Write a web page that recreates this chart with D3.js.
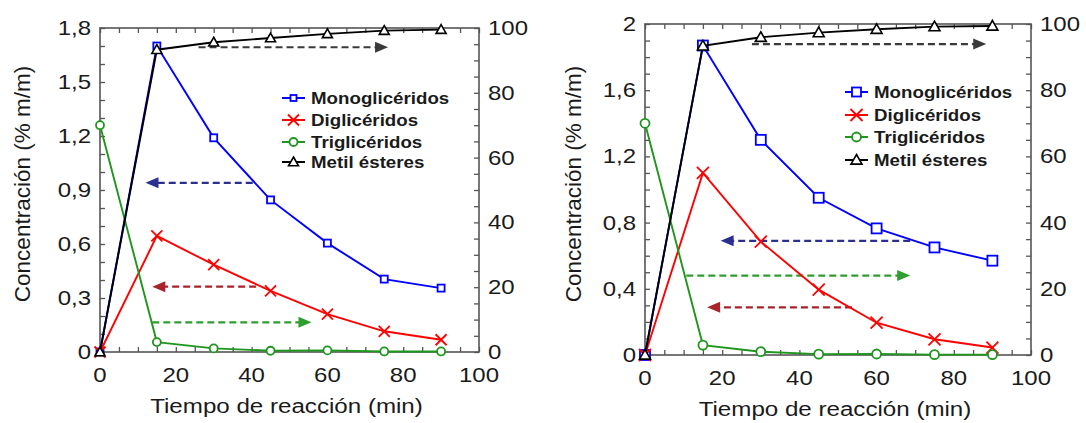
<!DOCTYPE html>
<html lang="es">
<head>
<meta charset="utf-8">
<script src="https://d3js.org/d3.v7.min.js"></script>
<style>
  body { margin: 0; background: #fff; }
  text { font-family: "Liberation Sans", Arial, sans-serif; fill: #1a1a1a; }
</style>
</head>
<body>
<script>
// tiempo de reacción (min)
const tiempo = [0, 15, 30, 45, 60, 75, 90];

// panel izquierdo (% m/m, metil ésteres en eje derecho 0-100)
const monoA  = [0, 1.70, 1.19, 0.845, 0.605, 0.405, 0.355];
const diA    = [0, 0.645, 0.485, 0.34, 0.21, 0.115, 0.068];
const triA   = [1.26, 0.055, 0.02, 0.007, 0.009, 0.003, 0.003];
const metilA = [0, 93.3, 95.6, 96.9, 98.2, 99.2, 99.5];

// panel derecho
const monoB  = [0, 1.87, 1.30, 0.95, 0.765, 0.65, 0.57];
const diB    = [0, 1.10, 0.685, 0.395, 0.195, 0.095, 0.045];
const triB   = [1.40, 0.06, 0.02, 0.005, 0.006, 0.002, 0.002];
const metilB = [0, 93.4, 96.0, 97.4, 98.4, 99.2, 99.4];

// tick labels
const xTicks = [0, 20, 40, 60, 80, 100];
const yTicksA = [0, 0.3, 0.6, 0.9, 1.2, 1.5, 1.8];
const yTicksB = [0, 0.4, 0.8, 1.2, 1.6, 2];
const rightTicks = [0, 20, 40, 60, 80, 100];

// arrows: [from x, to x, y (left axis units), series]
const arrowsA = [[26, 76, 1.693, "metil"], [40.3, 12, 0.94, "mono"], [41.2, 13.8, 0.363, "di"], [13.8, 55.8, 0.165, "tri"]];
const arrowsB = [[27.7, 88.4, 1.879, "metil"], [68.7, 19.6, 0.69, "mono"], [10.7, 68.7, 0.48, "tri"], [53.6, 16.1, 0.288, "di"]];

const names = {mono: "Monoglicéridos", di: "Diglicéridos", tri: "Triglicéridos", metil: "Metil ésteres"};
const colours = {mono: "#0000ff", di: "#ff0000", tri: "#1e961e", metil: "#000"};
const arrowColours = {mono: "#2b2f8f", di: "#a8232a", tri: "#2e9e2e", metil: "#3a3a3a"};

const W = 1086, H = 423;
const svg = d3.select("body").append("svg").attr("width", W).attr("height", H);

const defs = svg.append("defs");
defs.append("filter").attr("id", "blur").attr("x", "-20%").attr("y", "-200%").attr("width", "140%").attr("height", "500%")
    .append("feGaussianBlur").attr("stdDeviation", 2);

const fmt = d3.formatLocale({decimal: ",", thousands: ".", grouping: [3], currency: ["", ""]}).format(".2~f");

// text with the horizontal stretch seen in the picture
function label(g, x, y, s, size, sx, anchor, weight) {
  return g.append("text")
    .attr("transform", `translate(${x},${y}) scale(${sx},1)`)
    .attr("text-anchor", anchor)
    .attr("font-size", size)
    .attr("font-weight", weight || "normal")
    .text(s);
}

function marker(g, type, cx, cy, sz) {
  const c = colours[type];
  if (type == "mono") {
    g.append("rect").attr("x", cx - sz / 2).attr("y", cy - sz / 2).attr("width", sz).attr("height", sz)
     .attr("fill", "#fff").attr("stroke", c).attr("stroke-width", 1.8);
  } else if (type == "di") {
    const r = sz / 2 + 1;
    g.append("path").attr("d", `M${cx - r},${cy - r}L${cx + r},${cy + r}M${cx - r},${cy + r}L${cx + r},${cy - r}`)
     .attr("stroke", c).attr("stroke-width", 1.8);
  } else if (type == "tri") {
    g.append("circle").attr("cx", cx).attr("cy", cy).attr("r", sz / 2)
     .attr("fill", "#fff").attr("stroke", c).attr("stroke-width", 1.8);
  } else {
    const r = sz / 2 + 0.5;
    g.append("path").attr("d", `M${cx},${cy - r}L${cx + r},${cy + r * 0.75}L${cx - r},${cy + r * 0.75}Z`)
     .attr("fill", "#fff").attr("stroke", c).attr("stroke-width", 1.6);
  }
}

function drawPanel(p) {
  const g = svg.append("g");
  const x = d3.scaleLinear().domain([0, 100]).range([p.x0, p.x1]);
  const y = d3.scaleLinear().domain([0, p.yMax]).range([p.y1, p.y0]);
  const yr = d3.scaleLinear().domain([0, 100]).range([p.y1, p.y0]);

  // inward ticks on all sides
  const tk = (ax) => ax.tickSize(-5).tickFormat("");
  const ax = [
    g.append("g").attr("transform", `translate(0,${p.y1})`).call(tk(d3.axisBottom(x).tickValues(d3.range(0, 101, 5)))),
    g.append("g").attr("transform", `translate(0,${p.y0})`).call(tk(d3.axisTop(x).tickValues(d3.range(0, 101, 5)))),
    g.append("g").attr("transform", `translate(${p.x0},0)`).call(tk(d3.axisLeft(y).tickValues(d3.range(0, p.yMax + 0.01, 0.1)))),
    g.append("g").attr("transform", `translate(${p.x1},0)`).call(tk(d3.axisRight(yr).tickValues(d3.range(0, 101, 5))))
  ];
  ax.forEach(a => { a.select(".domain").remove(); a.selectAll("line").attr("stroke", "#555").attr("stroke-width", 1.3); });

  g.append("rect").attr("x", p.x0).attr("y", p.y0).attr("width", p.x1 - p.x0).attr("height", p.y1 - p.y0)
   .attr("fill", "none").attr("stroke", "#555").attr("stroke-width", 1.6);

  // tick labels
  xTicks.forEach(v => label(g, x(v), p.y1 + 30, v, 20, 1.2, "middle"));
  p.yTicks.forEach(v => label(g, p.x0 - 9, y(v) + 7, fmt(v), 20, 1.2, "end"));
  rightTicks.forEach(v => label(g, p.x1 + 9, yr(v) + 7, v, 20, 1.2, "start"));

  // axis titles
  label(g, (p.x0 + p.x1) / 2 - 3, p.y1 + 61, "Tiempo de reacción (min)", 21, 1.15, "middle");
  g.append("text").attr("transform", `translate(${p.titleX},${p.titleY}) rotate(-90)`)
   .attr("text-anchor", "middle").attr("font-size", 22.5).text("Concentración (% m/m)");

  // arrows with soft shadow
  p.arrows.forEach(([a, b, v, k]) => {
    const x1 = x(a), x2 = x(b), yy = y(v);
    const dir = x2 > x1 ? 1 : -1;
    g.append("line").attr("x1", x1 + 3).attr("x2", x2 + 3 + dir * 4).attr("y1", yy + 5).attr("y2", yy + 5)
     .attr("stroke", "#aaa").attr("stroke-width", 4).attr("opacity", 0.55).attr("filter", "url(#blur)");
    g.append("line").attr("x1", x1).attr("x2", x2 - dir * 11).attr("y1", yy).attr("y2", yy)
     .attr("stroke", arrowColours[k]).attr("stroke-width", 2.2).attr("stroke-dasharray", "7,4");
    g.append("path").attr("d", `M${x2},${yy}L${x2 - dir * 13},${yy - 5.5}L${x2 - dir * 13},${yy + 5.5}Z`)
     .attr("fill", arrowColours[k]);
  });

  // series
  const line = (sc) => d3.line().x((d, i) => x(tiempo[i])).y(d => sc(d));
  const series = [["mono", p.mono, y], ["di", p.di, y], ["tri", p.tri, y], ["metil", p.metil, yr]];
  series.forEach(([k, vals, sc]) => {
    g.append("path").datum(vals).attr("d", line(sc)).attr("fill", "none")
     .attr("stroke", colours[k]).attr("stroke-width", 1.9);
    vals.forEach((d, i) => marker(g, k, x(tiempo[i]), sc(d), p.msize[k]));
  });

  // legend
  ["mono", "di", "tri", "metil"].forEach((k, i) => {
    const ly = p.legY[i];
    g.append("line").attr("x1", p.legX).attr("x2", p.legX + 23).attr("y1", ly).attr("y2", ly)
     .attr("stroke", colours[k]).attr("stroke-width", 2);
    marker(g, k, p.legX + 11.5, ly, p.lsize[k]);
    label(g, p.legX + 29, ly + 6, names[k], 16, 1.17, "start", "bold");
  });
}

drawPanel({
  x0: 100, x1: 479, y0: 28, y1: 352, yMax: 1.8, yTicks: yTicksA,
  mono: monoA, di: diA, tri: triA, metil: metilA, arrows: arrowsA,
  titleX: 30, titleY: 184,
  msize: {mono: 7, di: 9, tri: 8, metil: 9}, lsize: {mono: 6, di: 9, tri: 8, metil: 9},
  legX: 282, legY: [98, 120, 142, 162]
});

drawPanel({
  x0: 645, x1: 1031, y0: 24, y1: 355, yMax: 2, yTicks: yTicksB,
  mono: monoB, di: diB, tri: triB, metil: metilB, arrows: arrowsB,
  titleX: 581, titleY: 184,
  msize: {mono: 10, di: 10, tri: 9, metil: 10}, lsize: {mono: 9, di: 10, tri: 9, metil: 10},
  legX: 845, legY: [92, 115, 137, 160]
});
</script>
</body>
</html>
